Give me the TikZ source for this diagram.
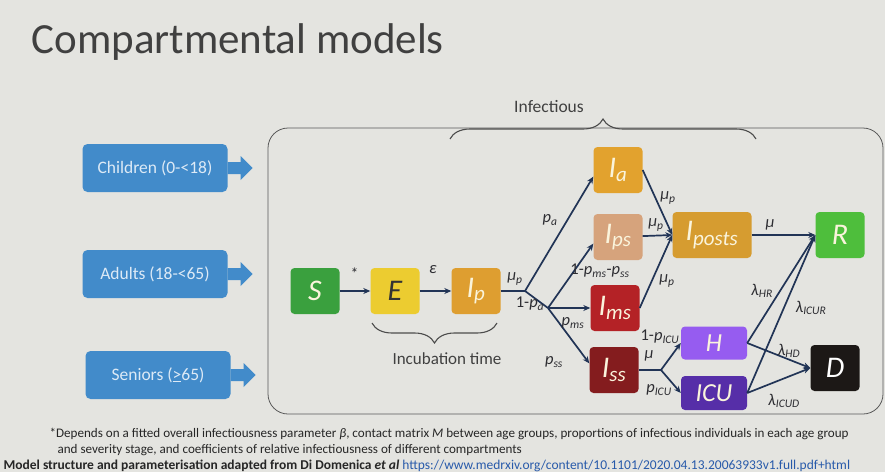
\documentclass[tikz,border=0pt]{standalone}
\usepackage{fontspec}
\setmainfont{Carlito}
\usetikzlibrary{arrows.meta,decorations.pathreplacing}
\definecolor{slidebg}{RGB}{228,228,224}
\definecolor{agebl}{RGB}{66,139,202}
\definecolor{flowblue}{RGB}{33,52,86}
\definecolor{cS}{RGB}{58,160,62}
\definecolor{cE}{RGB}{236,204,48}
\definecolor{cIp}{RGB}{222,158,48}
\definecolor{cIa}{RGB}{226,162,46}
\definecolor{cIps}{RGB}{214,163,124}
\definecolor{cIposts}{RGB}{214,156,48}
\definecolor{cIms}{RGB}{180,34,38}
\definecolor{cIss}{RGB}{132,28,30}
\definecolor{cH}{RGB}{150,92,240}
\definecolor{cICU}{RGB}{86,46,168}
\definecolor{cR}{RGB}{78,190,60}
\definecolor{cD}{RGB}{28,24,22}
\definecolor{boxtext}{RGB}{250,244,220}
\definecolor{labtext}{RGB}{45,45,50}
\definecolor{urlblue}{RGB}{40,90,170}

\tikzset{
  comp/.style={rectangle, rounded corners=4pt, minimum width=49pt, minimum height=46pt, inner sep=0pt, text=boxtext, font=\fontsize{30}{30}\selectfont\itshape},
  agebox/.style={rectangle, rounded corners=5pt, fill=agebl, minimum width=145pt, minimum height=48pt, text=white!82!agebl, font=\fontsize{17.5}{17.5}\selectfont},
  flow/.style={draw=flowblue, line width=1.7pt, -{Stealth[length=7pt,width=6pt]}},
  flowline/.style={draw=flowblue, line width=1.7pt},
  lab/.style={text=labtext, font=\fontsize{16.5}{16.5}\selectfont\itshape, inner sep=1pt},
  curly/.style={decorate, decoration={brace, amplitude=20pt}, draw=black!70, line width=1.1pt},
  note/.style={anchor=base west, text=black!85, font=\fontsize{13.1}{14}\selectfont}
}

\begin{document}
\begin{tikzpicture}[x=1pt, y=-1pt]
    \fill[slidebg] (0,0) rectangle (885,472);
    \useasboundingbox (0,0) rectangle (885,472);

    \node[anchor=base west, text=black!75, font=\fontsize{43}{43}\selectfont] (title) at (28,53) {Compartmental models};
    \node[draw=black!65, line width=0.8pt, rounded corners=20pt, minimum width=615pt, minimum height=286pt] (model) at (575.5,271) {};

    \node[agebox] (child) at (155,168) {Children (0-<18)};
    \node[agebox] (adult) at (155,274) {Adults (18-<65)};
    \node[agebox] (senior) at (158,375) {Seniors (\underline{>}65)};
    \foreach \g in {child,adult,senior}
        \fill[agebl] (\g.east) ++(0,-6) -- ++(13,0) -- ++(0,-6) -- ++(12,12) -- ++(-12,12) -- ++(0,-6) -- ++(-13,0) -- cycle;

    \node[comp, fill=cS] (S) at (315,291) {S};
    \node[comp, fill=cE, text=black!80] (E) at (395,291) {E};
    \node[comp, fill=cIp] (Ip) at (476,291) {I\textsubscript{p}};
    \node[comp, fill=cIa] (Ia) at (618,170) {I\textsubscript{a}};
    \node[comp, fill=cIps] (Ips) at (618,237) {I\textsubscript{ps}};
    \node[comp, fill=cIms] (Ims) at (615,308) {I\textsubscript{ms}};
    \node[comp, fill=cIss] (Iss) at (614,370) {I\textsubscript{ss}};
    \node[comp, fill=cIposts, minimum width=79pt] (Iposts) at (712,235) {I\textsubscript{posts}};
    \node[comp, fill=cR] (R) at (840,235) {R};
    \node[comp, fill=cH, minimum width=66pt, minimum height=33pt, font=\fontsize{26}{26}\selectfont\itshape] (H) at (714,343) {H};
    \node[comp, fill=cICU, minimum width=66pt, minimum height=34pt, font=\fontsize{26}{26}\selectfont\itshape] (ICU) at (714,393) {ICU};
    \node[comp, fill=cD, text=white] (D) at (835,368) {D};

    \coordinate (j1) at (525,291);
    \coordinate (j2) at (548,308);
    \coordinate (j3) at (661,370);

    \draw[flow] (S) -- (E);
    \draw[flow] (E) -- (Ip);
    \draw[flowline] (Ip) -- (j1);
    \draw[flow] (j1) -- (Ia.195);
    \draw[flowline] (j1) -- (j2);
    \draw[flow] (j2) -- (Ips.195);
    \draw[flow] (j2) -- (Ims);
    \draw[flow] (j2) -- (Iss.165);
    \draw[flow] (Ia.east) -- (Iposts.west);
    \draw[flow] (Ips) -- (Iposts.west);
    \draw[flow] (Ims.east) -- (Iposts.west);
    \draw[flow] (Iposts) -- (R);
    \draw[flowline] (Iss) -- (j3);
    \draw[flow] (j3) -- (H.west);
    \draw[flow] (j3) -- (ICU.west);
    \draw[flow] (H.east) -- (R.west);
    \draw[flow] (ICU.east) -- (R.west);
    \draw[flow] (H.east) -- (D.west);
    \draw[flow] (ICU.east) -- (D.west);

    \node[lab] (star) at (354,274) {*};
    \node[lab] (eps) at (433,270) {ε};
    \node[lab] (mup1) at (515,279) {μ\textsubscript{p}};
    \node[lab] (ompa) at (530,304) {{\upshape 1-}p\textsubscript{a}};
    \node[lab] (pa) at (550,220) {p\textsubscript{a}};
    \node[lab] (ompms) at (600,271) {{\upshape 1-}p\textsubscript{ms}{\upshape -}p\textsubscript{ss}};
    \node[lab] (pms) at (573,323) {p\textsubscript{ms}};
    \node[lab] (pss) at (554,362) {p\textsubscript{ss}};
    \node[lab] (mup2) at (668,198) {μ\textsubscript{p}};
    \node[lab] (mup3) at (656,225) {μ\textsubscript{p}};
    \node[lab] (mup4) at (667,281) {μ\textsubscript{p}};
    \node[lab] (mu1) at (770,225) {μ};
    \node[lab] (ompicu) at (660,337) {{\upshape 1-}p\textsubscript{ICU}};
    \node[lab] (mu2) at (649,356) {μ};
    \node[lab] (picu) at (659,390) {p\textsubscript{ICU}};
    \node[lab] (lhr) at (762,291) {λ\textsubscript{HR}};
    \node[lab] (licur) at (811,308) {λ\textsubscript{ICUR}};
    \node[lab] (lhd) at (789,351) {λ\textsubscript{HD}};
    \node[lab] (licud) at (784,401) {λ\textsubscript{ICUD}};

    \draw[curly] (450,139) -- (756,139);
    \node[text=black!75, font=\fontsize{17.5}{17.5}\selectfont] (infect) at (549,107) {Infectious};
    \draw[curly] (497,323) -- (372,323);
    \node[text=black!75, font=\fontsize{17}{17}\selectfont] (incub) at (447,359) {Incubation time};

    \node[note] (note1) at (46,437) {*Depends on a fitted overall infectiousness parameter \textit{β}, contact matrix \textit{M} between age groups, proportions of infectious individuals in each age group};
    \node[note] (note2) at (54,453) {and severity stage, and coefficients of relative infectiousness of different compartments};
    \node[note, font=\fontsize{13.5}{14}\selectfont\bfseries] (source) at (0,469) {Model structure and parameterisation adapted from Di Domenica \textit{et al} {\mdseries\color{urlblue}\underline{https://www.medrxiv.org/content/10.1101/2020.04.13.20063933v1.full.pdf+html}}};
\end{tikzpicture}
\end{document}
